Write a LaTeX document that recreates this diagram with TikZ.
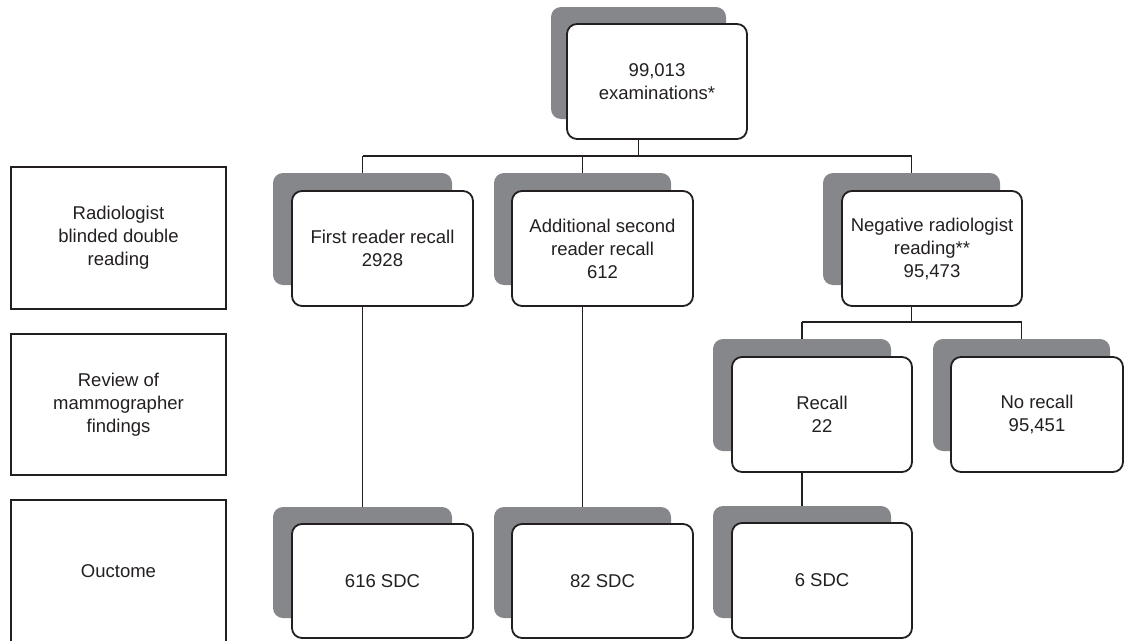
\documentclass[tikz,border=0pt]{standalone}
\usepackage{fontspec}
\setmainfont{Liberation Sans}
\definecolor{shade}{RGB}{134,135,139}
\definecolor{ink}{RGB}{35,31,32}
\begin{document}
\begin{tikzpicture}[x=1pt,y=-1pt,
  shadowbox/.style={fill=shade,draw=none,rounded corners=10pt,inner sep=0pt},
  whitebox/.style={fill=white,draw=ink,line width=1.8pt,rounded corners=10pt,inner sep=2pt,
    align=center,text=ink,font=\fontsize{18.5}{23}\selectfont},
  labelbox/.style={fill=white,draw=ink,line width=1.8pt,inner sep=2pt,
    align=center,text=ink,font=\fontsize{18.5}{23}\selectfont,minimum width=215pt},
  link/.style={draw=ink,line width=1.3pt}]
\useasboundingbox (0,0) rectangle (1124,640);
% left labels
\node[labelbox,minimum height=142pt] (l1) at (118.5,238) {Radiologist\\blinded double\\reading};
\node[labelbox,minimum height=141pt] (l2) at (118.5,404.5) {Review of\\mammographer\\findings};
\node[labelbox,minimum height=142pt] (l3) at (118.5,571) {Ouctome};
% top
\node[shadowbox,minimum width=175pt,minimum height=112pt] (s0) at (638.5,63) {};
\node[whitebox,minimum width=180pt,minimum height=115pt] (b0) at (657,81.5) {99,013\\examinations*};
% level 2
\node[shadowbox,minimum width=179pt,minimum height=112pt] (s1) at (362.5,229) {};
\node[whitebox,minimum width=181pt,minimum height=115pt] (b1) at (382.5,248.5) {First reader recall\\2928};
\node[shadowbox,minimum width=177pt,minimum height=112pt] (s2) at (582.5,229) {};
\node[whitebox,minimum width=181pt,minimum height=115pt] (b2) at (602.5,248.5) {Additional second\\reader recall\\612};
\node[shadowbox,minimum width=177pt,minimum height=112pt] (s3) at (911.5,229) {};
\node[whitebox,minimum width=180pt,minimum height=115pt] (b3) at (932,248.5) {Negative radiologist\\reading**\\95,473};
% level 3
\node[shadowbox,minimum width=178pt,minimum height=112pt] (s4) at (802,395) {};
\node[whitebox,minimum width=180pt,minimum height=115pt] (b4) at (822,414.5) {Recall\\22};
\node[shadowbox,minimum width=177pt,minimum height=112pt] (s5) at (1021.5,395) {};
\node[whitebox,minimum width=172pt,minimum height=115pt] (b5) at (1037,414.5) {No recall\\95,451};
% level 4
\node[shadowbox,minimum width=179pt,minimum height=111pt] (s6) at (362.5,562.5) {};
\node[whitebox,minimum width=181pt,minimum height=114pt] (b6) at (382.5,581) {616 SDC};
\node[shadowbox,minimum width=177pt,minimum height=111pt] (s7) at (582.5,562.5) {};
\node[whitebox,minimum width=181pt,minimum height=114pt] (b7) at (602.5,581) {82 SDC};
\node[shadowbox,minimum width=178pt,minimum height=112pt] (s8) at (802,562) {};
\node[whitebox,minimum width=180pt,minimum height=115pt] (b8) at (822,580.5) {6 SDC};
% junctions
\coordinate (j1) at (638.5,156);
\coordinate (j2) at (911.5,322);
% connectors
\draw[link] (s0.south |- b0.south) -- (j1);
\draw[link] (s1.north |- j1) -- (s3.north |- j1);
\draw[link] (s1.north |- j1) -- (s1.north);
\draw[link] (s2.north |- j1) -- (s2.north);
\draw[link] (s3.north |- j1) -- (s3.north);
\draw[link] (s3.south |- b3.south) -- (j2);
\draw[link] (s4.north |- j2) -- (s5.north |- j2);
\draw[link] (s4.north |- j2) -- (s4.north);
\draw[link] (s5.north |- j2) -- (s5.north);
\draw[link] (s1.south |- b1.south) -- (s6.north);
\draw[link] (s2.south |- b2.south) -- (s7.north);
\draw[link] (s4.south |- b4.south) -- (s8.north);
\end{tikzpicture}
\end{document}
